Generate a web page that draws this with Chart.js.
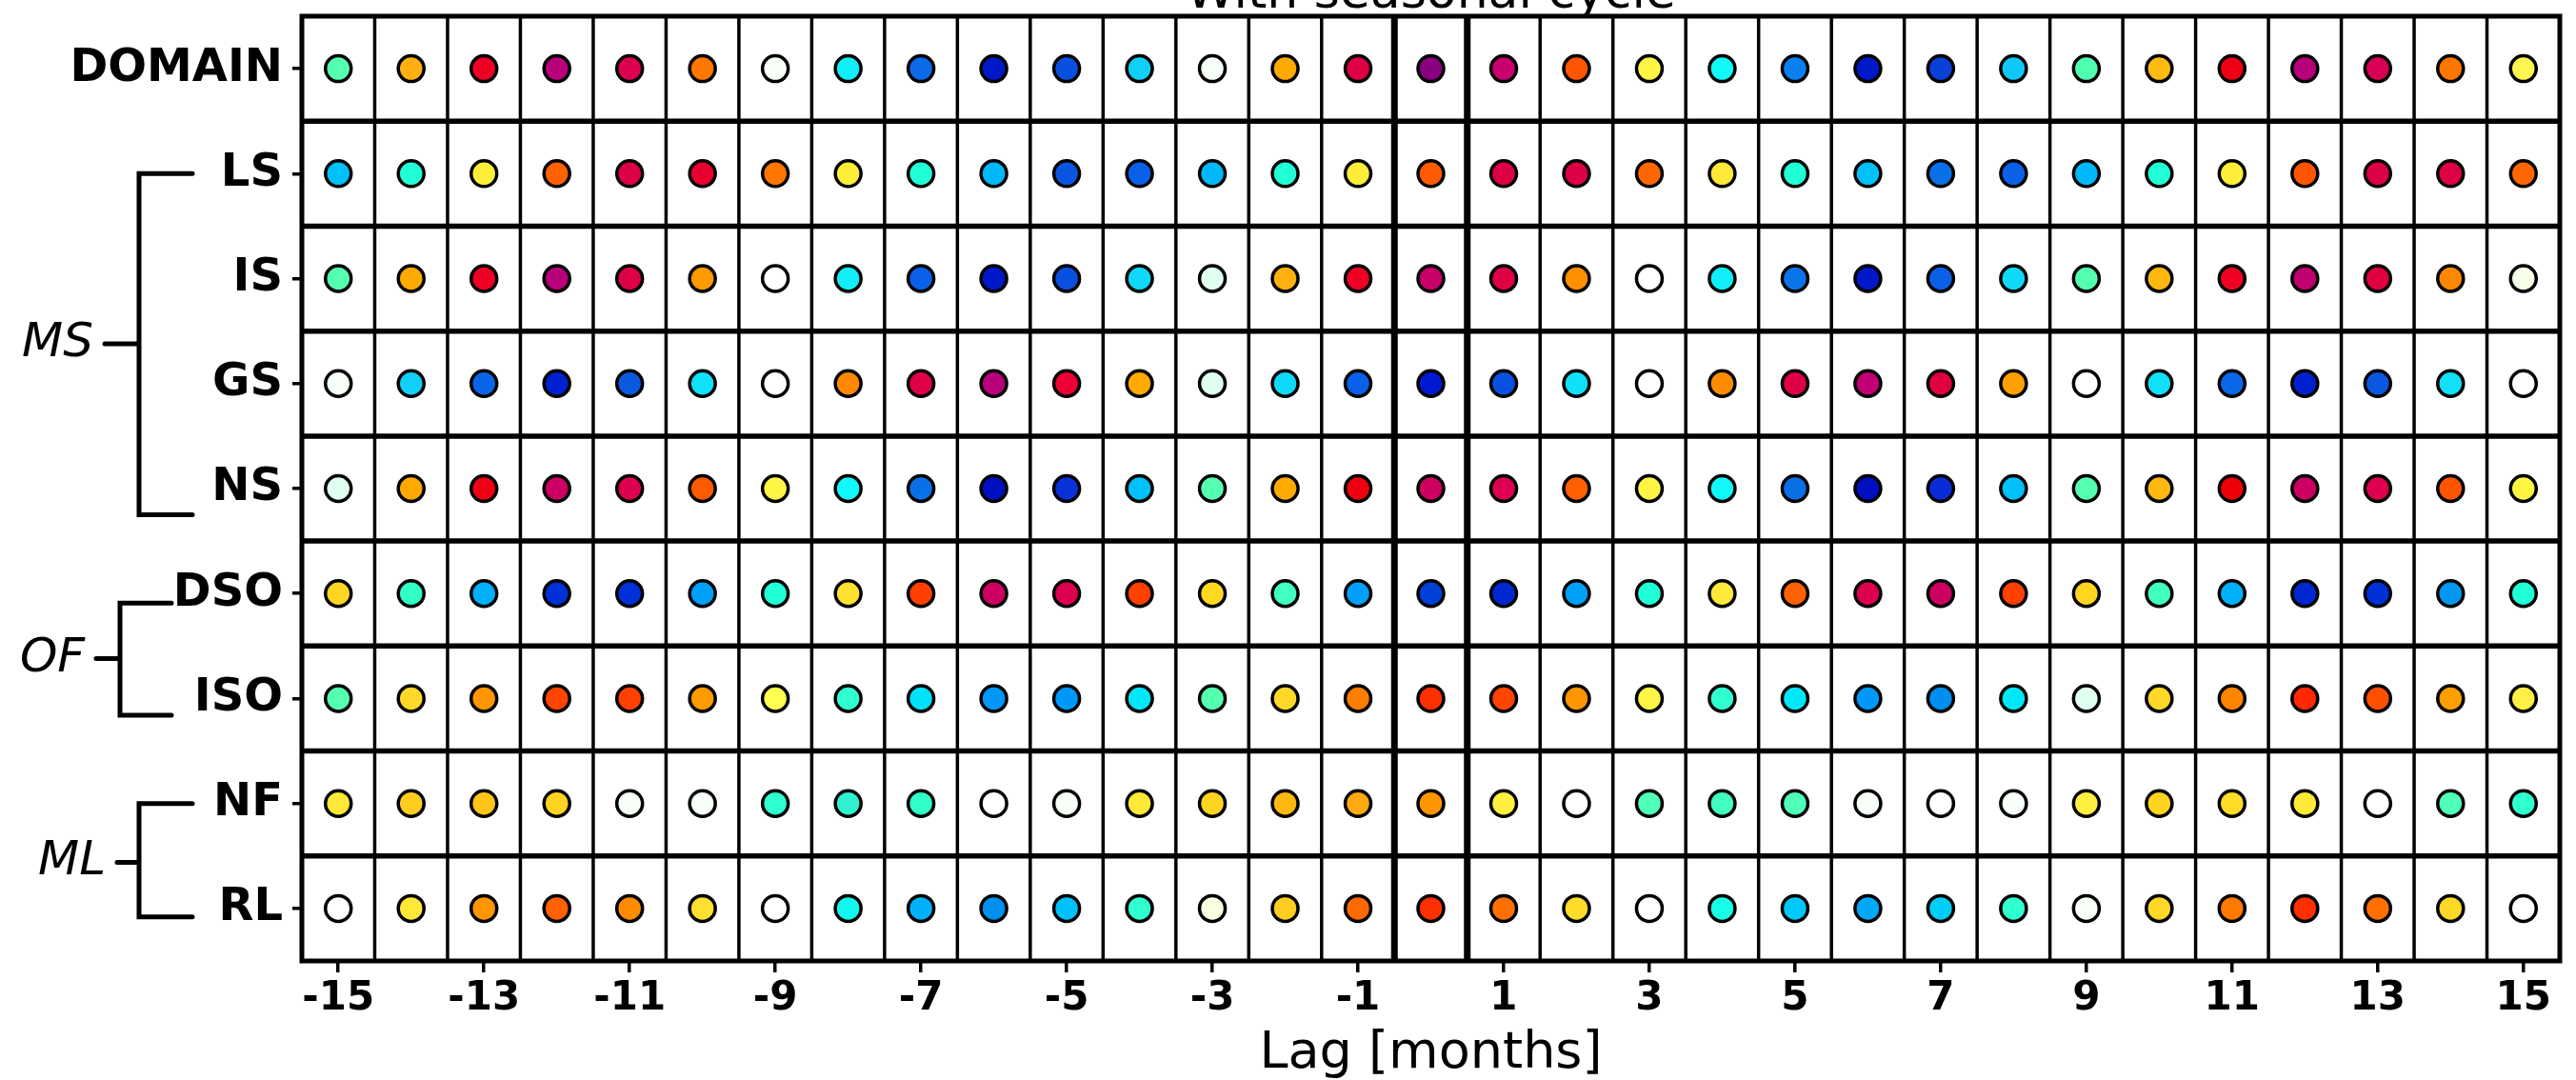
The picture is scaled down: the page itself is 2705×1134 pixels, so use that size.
<!DOCTYPE html>
<html>
<head>
<meta charset="utf-8">
<script src="https://cdn.jsdelivr.net/npm/chart.js@4.4.1/dist/chart.umd.min.js"></script>
<style>
    html, body { margin: 0; padding: 0; background: #ffffff; }
    #wrap { width: 2705px; height: 1134px; }
</style>
</head>
<body>
<div id="wrap"><canvas id="Chart1" width="2705" height="1134"></canvas></div>
<script>
// lags (months) and row labels
const lags = [-15, -14, -13, -12, -11, -10, -9, -8, -7, -6, -5, -4, -3, -2, -1, 0,
    1, 2, 3, 4, 5, 6, 7, 8, 9, 10, 11, 12, 13, 14, 15];
const lagTicks = [-15, -13, -11, -9, -7, -5, -3, -1, 1, 3, 5, 7, 9, 11, 13, 15];
const rowNames = ['DOMAIN', 'LS', 'IS', 'GS', 'NS', 'DSO', 'ISO', 'NF', 'RL'];
const groupNames = ['MS', 'OF', 'ML'];
const groupRows = [[1, 4], [5, 6], [7, 8]];

// marker colours per row, lag -15 .. 15
const domainColors = ['#55ffb0', '#ffb010', '#ee0025', '#b8007a', '#dd0050', '#ff7700', '#f8fff8', '#10eef8', '#0a6ae8', '#0018c8', '#0a50e0', '#10d0f8', '#f6fff8', '#ffaa00', '#dd0045', '#880080',
    '#c80070', '#ff5500', '#fff545', '#10f8f8', '#0a80f0', '#0018c8', '#0a40d8', '#10c8f8', '#50ffb0', '#ffbb10', '#ee0015', '#b8007a', '#d80055', '#ff7700', '#fff550'];
const lsColors = ['#00c0f8', '#20ffd8', '#ffee38', '#ff6000', '#dd0045', '#e80030', '#ff7700', '#ffee38', '#20ffd8', '#00b8f8', '#0a55e0', '#0a60e8', '#00b8f8', '#20ffd8', '#ffee38', '#ff5a00',
    '#dd0045', '#dd0045', '#ff6600', '#ffe838', '#20ffd8', '#00c0f8', '#0a70e8', '#0a60e8', '#00b8f8', '#20ffd8', '#ffee38', '#ff5500', '#dd0045', '#dd0045', '#ff6600'];
const isColors = ['#55ffb0', '#ffaa00', '#ee0025', '#b8007a', '#dd0045', '#ff9900', '#ffffff', '#10eef8', '#0a60e8', '#0018c8', '#0a50e0', '#10d8f8', '#e0fff0', '#ffb010', '#ee0025', '#c8006a',
    '#dd0045', '#ff9000', '#ffffff', '#10eef8', '#0a75e8', '#0018c8', '#0a60e8', '#10d8f8', '#55ffb0', '#ffb810', '#ee0020', '#c0006e', '#e00040', '#ff8800', '#f8ffe8'];
const gsColors = ['#f8fff8', '#10d0f8', '#0a65e8', '#0020d0', '#0a5ae0', '#10e0f8', '#ffffff', '#ff8800', '#e00045', '#b8007a', '#ee0035', '#ffaa00', '#e0fff0', '#10d8f8', '#0a60e8', '#0018d0',
    '#0a50e0', '#10e0f8', '#ffffff', '#ff8c00', '#e00045', '#c00075', '#e00040', '#ffa000', '#ffffff', '#10e0f8', '#0a68e8', '#0020d0', '#0a58e0', '#10e0f8', '#ffffff'];
const nsColors = ['#e0fff0', '#ffa800', '#ee0015', '#cc0065', '#dd0050', '#ff5a00', '#fff545', '#10f8f8', '#0a70e8', '#0010c0', '#0a30d8', '#00c0f8', '#55ffb0', '#ffaa00', '#ee0010', '#cc0060',
    '#dd0050', '#ff6000', '#fff545', '#10f8f8', '#0a70e8', '#0010c0', '#0a2cd8', '#00c0f8', '#55ffb0', '#ffb810', '#ee0008', '#cc0062', '#dd0050', '#ff5500', '#fff540'];
const dsoColors = ['#ffd520', '#30ffc8', '#00b0f8', '#0030d8', '#0030d8', '#00a0f8', '#20ffd8', '#ffe030', '#ff4000', '#cc0060', '#dd0050', '#ff4000', '#ffd820', '#40ffc0', '#00a0f8', '#0040d8',
    '#0028d0', '#00a0f8', '#20ffd8', '#ffe838', '#ff6000', '#dd0050', '#cc0060', '#ff4000', '#ffd520', '#40ffc0', '#00b0f8', '#0028d0', '#0030d8', '#0098f0', '#20ffd8'];
const isoColors = ['#55ffb0', '#ffd828', '#ff9600', '#ff4500', '#ff4000', '#ff9a00', '#ffff50', '#30ffd0', '#00e0f8', '#0098f8', '#0098f8', '#00e8f8', '#55ffb0', '#ffd828', '#ff7d00', '#ff3000',
    '#ff4500', '#ff9600', '#fff545', '#30ffd0', '#00e8f8', '#0098f8', '#008ef0', '#00e8f8', '#e0fff0', '#ffd828', '#ff8400', '#ff2800', '#ff5000', '#ffa000', '#fff045'];
const nfColors = ['#ffe838', '#ffcc20', '#ffc418', '#ffd420', '#f8fff8', '#f8fff8', '#30ffd0', '#30f0d0', '#30ffc8', '#ffffff', '#f8fff8', '#ffe838', '#ffd420', '#ffb810', '#ffaa10', '#ff9600',
    '#fff040', '#ffffff', '#50ffb8', '#40ffc0', '#50ffb8', '#f8fff8', '#ffffff', '#f8fff8', '#fff040', '#ffd420', '#ffdc28', '#ffea38', '#ffffff', '#50ffb8', '#30ffd0'];
const rlColors = ['#ffffff', '#ffe838', '#ff9600', '#ff6000', '#ff8c00', '#ffe030', '#ffffff', '#10f8f0', '#00b0f8', '#0090f0', '#00c0f8', '#30ffd0', '#f8ffe0', '#ffcc20', '#ff6a00', '#ff3000',
    '#ff7000', '#ffdc28', '#ffffff', '#18ffe8', '#00c8f8', '#00a8f8', '#00cef8', '#30ffd0', '#f8fff8', '#ffd828', '#ff7800', '#ff3000', '#ff7000', '#ffd828', '#ffffff'];

const rowColors = [domainColors, lsColors, isColors, gsColors, nsColors, dsoColors, isoColors, nfColors, rlColors];

Chart.defaults.font.family = "'DejaVu Sans', sans-serif";
Chart.defaults.color = '#000000';

// cell borders: thin between lags, thick around lag 0 and between rows
const cellGrid = {
    id: 'cellGrid',
    beforeDatasetsDraw(chart) {
        const { ctx, chartArea: a, scales: { x, y } } = chart;
        ctx.save();
        ctx.strokeStyle = '#000000';
        lags.slice(1).forEach(v => {
            const px = x.getPixelForValue(v - 0.5);
            ctx.lineWidth = (v === 0 || v === 1) ? 7 : 3.5;
            ctx.beginPath();
            ctx.moveTo(px, a.top);
            ctx.lineTo(px, a.bottom);
            ctx.stroke();
        });
        ctx.lineWidth = 5.5;
        rowNames.slice(1).forEach((n, i) => {
            const py = y.getPixelForValue(i + 0.5);
            ctx.beginPath();
            ctx.moveTo(a.left, py);
            ctx.lineTo(a.right, py);
            ctx.stroke();
        });
        ctx.lineWidth = 5;
        ctx.strokeRect(a.left, a.top, a.right - a.left, a.bottom - a.top);
        ctx.restore();
    }
};

// group brackets to the left of the row labels, plus the clipped title
const groupBrackets = {
    id: 'groupBrackets',
    afterDraw(chart) {
        const { ctx, chartArea: a, scales: { y } } = chart;
        const shape = [
            { x: 146, end: 202, start: 110, top: 0, bottom: 0.25, mid: 0.12 },
            { x: 126, end: 180, start: 101, top: 0.09, bottom: 0.16, mid: 0.12 },
            { x: 146, end: 202, start: 123, top: 0, bottom: 0.08, mid: 0.06 }
        ];
        ctx.save();
        ctx.strokeStyle = '#000000';
        ctx.fillStyle = '#000000';
        ctx.lineWidth = 5;
        ctx.lineCap = 'round';
        groupNames.forEach((name, g) => {
            const s = shape[g];
            const [r0, r1] = groupRows[g];
            const yTop = y.getPixelForValue(r0 + s.top);
            const yBot = y.getPixelForValue(r1 + s.bottom);
            const yMid = y.getPixelForValue((r0 + r1) / 2 + s.mid);
            ctx.beginPath();
            ctx.moveTo(s.end, yTop);
            ctx.lineTo(s.x, yTop);
            ctx.lineTo(s.x, yBot);
            ctx.lineTo(s.end, yBot);
            ctx.moveTo(s.start, yMid);
            ctx.lineTo(s.x, yMid);
            ctx.stroke();
            ctx.font = "italic 50px 'DejaVu Sans'";
            ctx.textAlign = 'right';
            ctx.textBaseline = 'middle';
            ctx.fillText(name, s.start - 12, yMid);
        });
        ctx.font = "52px 'DejaVu Sans'";
        ctx.textAlign = 'center';
        ctx.textBaseline = 'alphabetic';
        ctx.fillText('With seasonal cycle', (a.left + a.right) / 2, 8);
        ctx.restore();
    }
};

const canvas = document.getElementById('Chart1');
const ctx = canvas.getContext('2d');

new Chart(ctx, {
    type: 'scatter',
    data: {
        datasets: rowNames.map((name, r) => ({
            label: name,
            data: lags.map(l => ({ x: l, y: r })),
            pointBackgroundColor: rowColors[r],
            pointBorderColor: '#000000',
            pointBorderWidth: 3.5,
            pointRadius: 13.5,
            pointHoverRadius: 13.5,
            showLine: false
        }))
    },
    options: {
        responsive: false,
        devicePixelRatio: 1,
        animation: false,
        layout: { padding: { left: 0, right: 14, top: 17, bottom: 0 } },
        scales: {
            x: {
                type: 'linear',
                min: -15.5,
                max: 15.5,
                afterBuildTicks: (scale) => { scale.ticks = lagTicks.map(v => ({ value: v })); },
                afterFit: (scale) => {
                    scale.height = 125;
                    scale.paddingLeft = 0;
                    scale.paddingRight = 0;
                },
                ticks: {
                    autoSkip: false,
                    maxRotation: 0,
                    padding: 3,
                    font: { size: 42, weight: 'bold' },
                    callback: (v) => String(v)
                },
                grid: { drawOnChartArea: false, drawTicks: true, tickLength: 12, lineWidth: 3.5, color: '#000000' },
                border: { display: false },
                title: { display: true, text: 'Lag [months]', font: { size: 54, lineHeight: 1.0 }, padding: { top: 0, bottom: 0 } }
            },
            y: {
                type: 'linear',
                min: -0.5,
                max: 8.5,
                reverse: true,
                afterBuildTicks: (scale) => { scale.ticks = rowNames.map((n, i) => ({ value: i })); },
                afterFit: (scale) => {
                    scale.width = 317;
                    scale.paddingTop = 0;
                    scale.paddingBottom = 0;
                },
                ticks: {
                    autoSkip: false,
                    padding: 10,
                    font: { size: 48, weight: 'bold' },
                    callback: (v) => rowNames[v]
                },
                grid: { drawOnChartArea: false, drawTicks: true, tickLength: 10, lineWidth: 3.5, color: '#000000' },
                border: { display: false }
            }
        },
        plugins: {
            legend: { display: false },
            tooltip: { enabled: false }
        }
    },
    plugins: [cellGrid, groupBrackets]
});
</script>
</body>
</html>
